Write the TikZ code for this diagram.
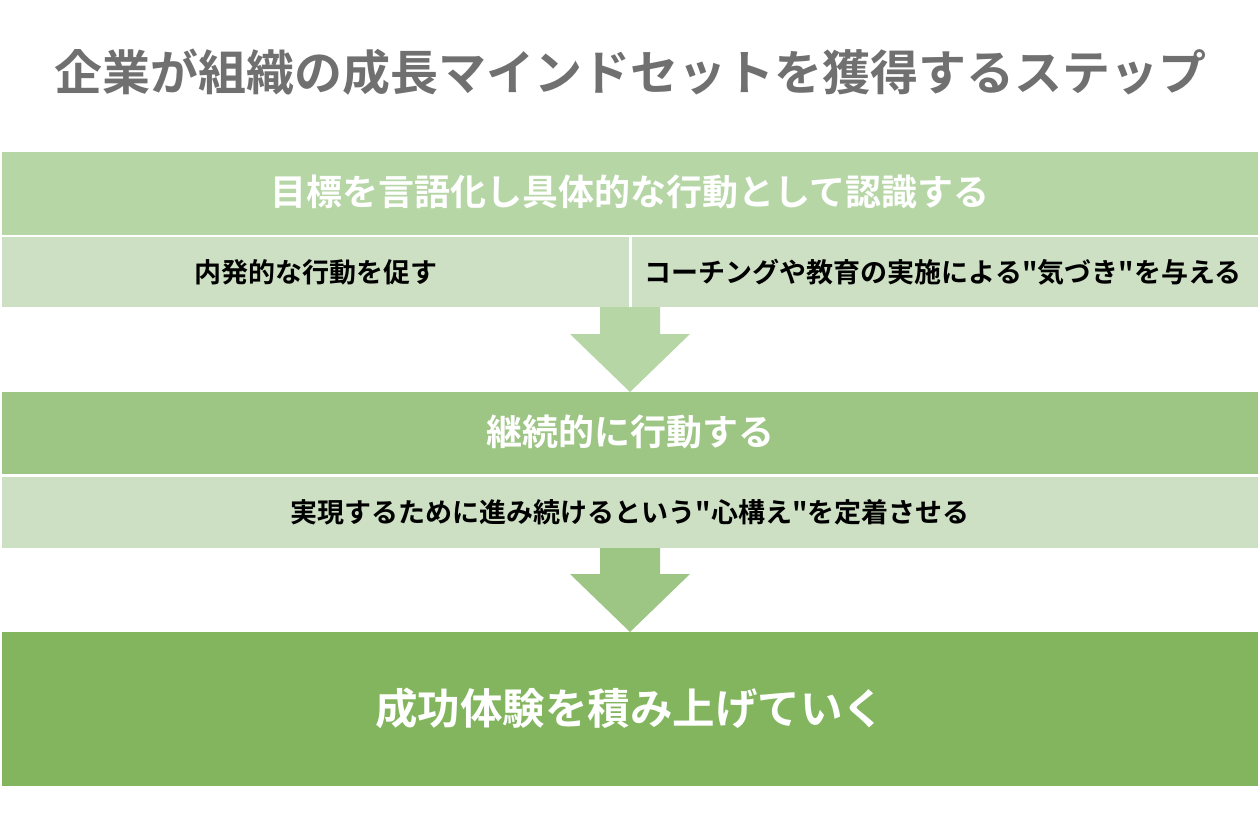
\documentclass[tikz,border=0pt]{standalone}
\usepackage{fontspec}
\newfontfamily\cjk{Noto Sans CJK JP}
\newfontfamily\cjkb{Noto Sans CJK JP Bold}
\definecolor{gA}{HTML}{B6D6A6}
\definecolor{gB}{HTML}{9DC584}
\definecolor{gC}{HTML}{82B55D}
\definecolor{sub}{HTML}{CDE0C4}
\definecolor{ttl}{HTML}{707070}
\begin{document}
\begin{tikzpicture}[x=1pt,y=-1pt,
  hdtext/.style={text=white,font=\cjkb\fontsize{36}{42}\selectfont},
  subtext/.style={text=black,font=\cjkb\fontsize{27}{32}\selectfont}]
\useasboundingbox (0,0) rectangle (1260,840);
\fill[white] (0,0) rectangle (1260,840);
\node[text=ttl,font=\cjkb\fontsize{48}{56}\selectfont] (title) at (630,72) {企業が組織の成長マインドセットを獲得するステップ};
% box 1
\fill[gA] (2,152) rectangle (1258,235);
\node[hdtext] (h1) at (630,192) {目標を言語化し具体的な行動として認識する};
\fill[sub] (2,237) rectangle (629,307);
\fill[sub] (632,237) rectangle (1258,307);
\node[subtext] (s1) at (316,272) {内発的な行動を促す};
\node[subtext] (s2) at (943,272) {コーチングや教育の実施による"気づき"を与える};
\fill[gA] (600,307) -- (660,307) -- (660,334) -- (690,334) -- (630,392) -- (570,334) -- (600,334) -- cycle;
% box 2
\fill[gB] (2,392) rectangle (1258,474);
\node[hdtext] (h2) at (630,432) {継続的に行動する};
\fill[sub] (2,477) rectangle (1258,548);
\node[subtext] (s3) at (630,512) {実現するために進み続けるという"心構え"を定着させる};
\fill[gB] (600,548) -- (660,548) -- (660,574) -- (690,574) -- (630,632) -- (570,574) -- (600,574) -- cycle;
% box 3
\fill[gC] (2,632) rectangle (1258,786);
\node[text=white,font=\cjkb\fontsize{42.5}{48}\selectfont] (h3) at (630,708) {成功体験を積み上げていく};
\end{tikzpicture}
\end{document}
